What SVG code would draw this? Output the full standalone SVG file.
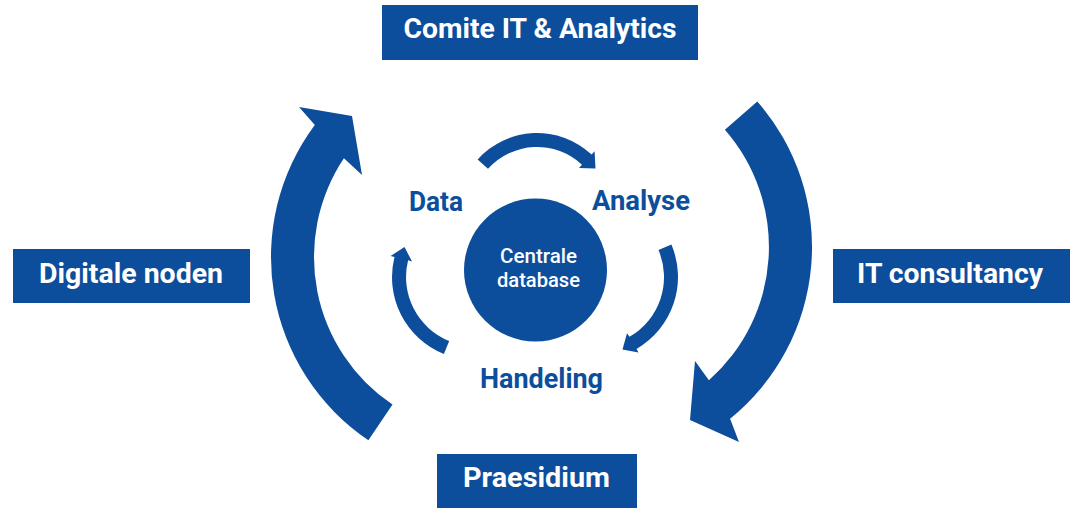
<svg xmlns="http://www.w3.org/2000/svg" width="1074" height="508" viewBox="0 0 1074 508">
  <style>
    .box { fill: #0c4e9c; }
    .boxtxt { fill: #ffffff; font-family: Roboto, "Liberation Sans", sans-serif; font-weight: 700; font-size: 27px; text-anchor: middle; }
    .lbl { fill: #0c4e9c; font-family: Roboto, "Liberation Sans", sans-serif; font-weight: 700; font-size: 27px; text-anchor: middle; }
    .ctr { fill: #ffffff; font-family: Roboto, "Liberation Sans", sans-serif; font-weight: 500; font-size: 20px; text-anchor: middle; }
    .arrow { fill: #0c4e9c; }
  </style>
  <rect width="1074" height="508" fill="#ffffff"/>

  <g id="connectors">
    <path class="arrow" d="M 368.4 440.2 A 221 221 0 0 1 314.8 124.9 L 299 107 L 352 116 L 362 175 L 343.9 158.2 A 178 178 0 0 0 392.5 404.6 Z"/>
    <path class="arrow" d="M 757.3 101.4 A 221 221 0 0 1 730.1 418.7 L 739 442 L 690 420 L 695 361 L 708.9 380.3 A 178 178 0 0 0 724.9 129.8 Z"/>
    <path class="arrow" d="M 477.6 159.5 A 80 80 0 0 1 591.6 154.5 L 594.6 151.3 L 595.5 168.5 L 579 167.9 L 582 164.7 A 66 66 0 0 0 488 168.8 Z"/>
    <path class="arrow" d="M 671.4 244.6 A 83 83 0 0 1 636.5 348.9 L 638.5 352.5 L 622.5 349.5 L 627 333.2 L 629.5 336.8 A 69 69 0 0 0 658.5 250 Z"/>
    <path class="arrow" d="M 443.9 354 A 83 83 0 0 1 394.5 256.9 L 390.6 256 L 404.5 247 L 412 261.5 L 408.1 260.3 A 69 69 0 0 0 449.2 341 Z"/>
  </g>

  <g id="node-comite">
    <rect class="box" x="382" y="5" width="316" height="55"/>
    <text class="boxtxt" x="540" y="37.5" textLength="273" lengthAdjust="spacingAndGlyphs">Comite IT &amp; Analytics</text>
  </g>
  <g id="node-digitale">
    <rect class="box" x="13" y="249" width="237" height="54"/>
    <text class="boxtxt" x="131" y="283" textLength="184" lengthAdjust="spacingAndGlyphs">Digitale noden</text>
  </g>
  <g id="node-itconsultancy">
    <rect class="box" x="833" y="249" width="237" height="54"/>
    <text class="boxtxt" x="950" y="283" textLength="186" lengthAdjust="spacingAndGlyphs">IT consultancy</text>
  </g>
  <g id="node-praesidium">
    <rect class="box" x="437" y="454" width="200" height="54"/>
    <text class="boxtxt" x="536.5" y="487" textLength="147" lengthAdjust="spacingAndGlyphs">Praesidium</text>
  </g>

  <g id="node-database">
    <circle class="box" cx="535.5" cy="270" r="71.5"/>
    <text class="ctr" x="538.5" y="262.5" textLength="77" lengthAdjust="spacingAndGlyphs">Centrale</text>
    <text class="ctr" x="538.5" y="286.5" textLength="83" lengthAdjust="spacingAndGlyphs">database</text>
  </g>

  <g id="node-data">
    <text class="lbl" x="436" y="211" textLength="54" lengthAdjust="spacingAndGlyphs">Data</text>
  </g>
  <g id="node-analyse">
    <text class="lbl" x="641" y="210" textLength="98" lengthAdjust="spacingAndGlyphs">Analyse</text>
  </g>
  <g id="node-handeling">
    <text class="lbl" x="541.5" y="388" textLength="123" lengthAdjust="spacingAndGlyphs">Handeling</text>
  </g>
</svg>
